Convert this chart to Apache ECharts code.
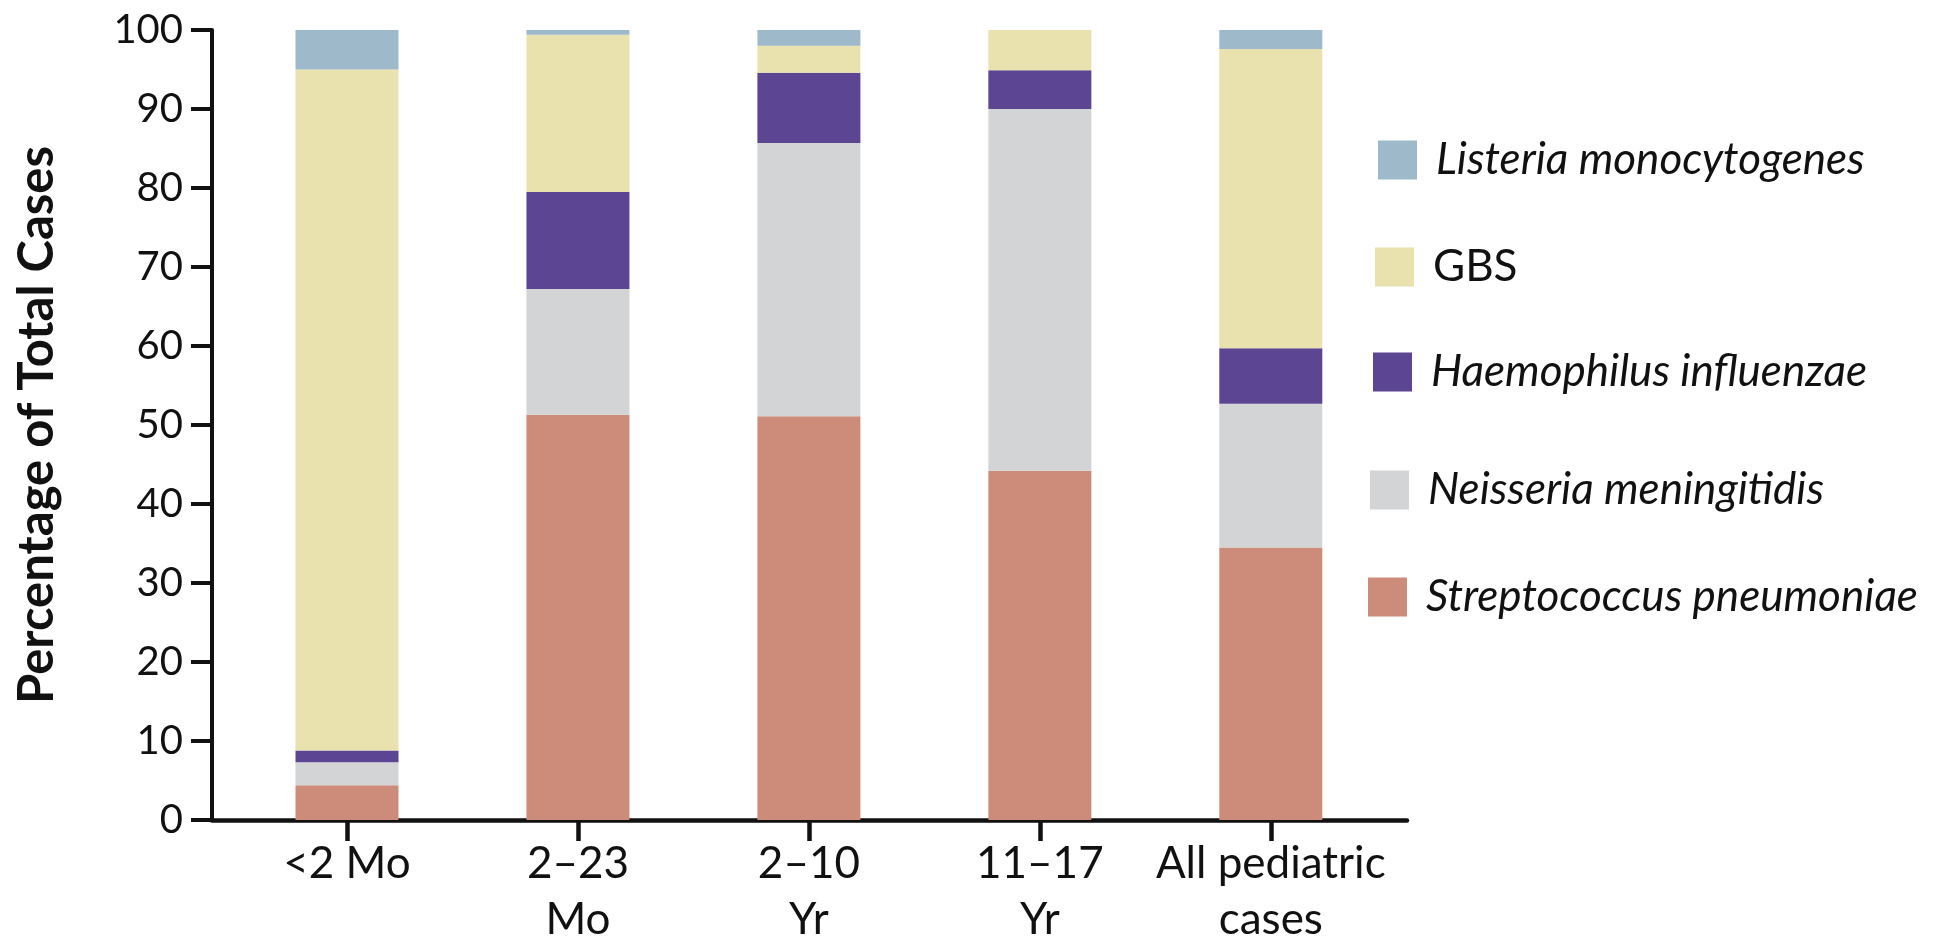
<!DOCTYPE html>
<html>
<head>
<meta charset="utf-8">
<title>Pediatric bacterial meningitis by age group</title>
<script src="https://cdn.jsdelivr.net/npm/echarts@6/dist/echarts.min.js"></script>
<style>
  html, body { margin: 0; padding: 0; background: #ffffff; }
  #chart { width: 1938px; height: 948px; }
</style>
</head>
<body>
<div id="chart"></div>
<script>
// Age groups along the x axis (index = bar position)
const ageGroups = ['<2 Mo', '2\u201323\nMo', '2\u201310\nYr', '11\u201317\nYr', 'All pediatric\ncases'];

// Percentage of total cases per pathogen, one value per age group
const streptococcus = [4.4, 51.3, 51.1, 44.2, 34.5];
const neisseria     = [2.9, 15.9, 34.6, 45.8, 18.2];
const haemophilus   = [1.5, 12.3, 8.9, 4.9, 7.0];
const gbs           = [86.2, 19.9, 3.4, 5.1, 37.9];
const listeria      = [5.0, 0.6, 2.0, 0.0, 2.4];

// Y axis ticks
const yTicks = [0, 10, 20, 30, 40, 50, 60, 70, 80, 90, 100];

const names = {
  spn: 'Streptococcus pneumoniae',
  nm: 'Neisseria meningitidis',
  hi: 'Haemophilus influenzae',
  gbs: 'GBS',
  lm: 'Listeria monocytogenes'
};

const colors = {
  spn: '#CD8C79',
  nm: '#D3D4D6',
  hi: '#5C4592',
  gbs: '#E9E2AE',
  lm: '#9DB9CA'
};

const positions = ageGroups.map((_, i) => i);

// Each point is [percentage, position]; the percentage comes first so that
// the stack is accumulated on the y dimension.
function stackSeries(key, values) {
  return {
    name: names[key],
    type: 'bar',
    stack: 'total',
    barWidth: 103,
    encode: { x: 1, y: 0 },
    data: values.map((v, i) => [v, positions[i]]),
    itemStyle: { color: colors[key] },
    emphasis: { disabled: true },
    animation: false
  };
}

// Legend rows, top to bottom, each slightly offset to the left
const legendRows = [
  { key: 'lm',  left: 1378, center: 160, italic: true },
  { key: 'gbs', left: 1375, center: 267, italic: false },
  { key: 'hi',  left: 1373, center: 372, italic: true },
  { key: 'nm',  left: 1370, center: 490, italic: true },
  { key: 'spn', left: 1368, center: 597, italic: true }
];

const legends = legendRows.map(r => ({
  data: [names[r.key]],
  orient: 'vertical',
  left: r.left,
  top: r.center - 25,
  padding: 0,
  icon: 'rect',
  itemWidth: 39,
  itemHeight: 39,
  selectedMode: false,
  textStyle: {
    fontFamily: 'Lato',
    fontStyle: r.italic ? 'italic' : 'normal',
    fontSize: 44,
    lineHeight: 50,
    color: '#111',
    padding: [0, 0, 0, 14]
  }
}));

const axisColor = '#111';

const option = {
  backgroundColor: '#ffffff',
  animation: false,
  legend: legends,
  grid: { left: 212, right: 531, top: 30, bottom: 128, containLabel: false },
  xAxis: {
    type: 'value',
    min: -0.5845,
    max: 4.5897,
    splitLine: { show: false },
    axisLine: { show: true, onZero: false, lineStyle: { color: axisColor, width: 4.5 } },
    axisTick: {
      show: true,
      customValues: positions,
      length: 21,
      lineStyle: { color: axisColor, width: 4.5 }
    },
    axisLabel: {
      customValues: positions,
      formatter: v => ageGroups[Math.round(v)] || '',
      margin: 16,
      fontFamily: 'Lato',
      fontSize: 44,
      lineHeight: 56,
      color: '#111'
    }
  },
  yAxis: {
    type: 'value',
    min: yTicks[0],
    max: yTicks[yTicks.length - 1],
    interval: yTicks[1] - yTicks[0],
    splitLine: { show: false },
    axisLine: { show: true, onZero: false, lineStyle: { color: axisColor, width: 4 } },
    axisTick: { show: true, length: 21, lineStyle: { color: axisColor, width: 4 } },
    axisLabel: {
      margin: 29,
      fontFamily: 'Lato',
      fontSize: 40,
      color: '#111'
    },
    name: 'Percentage of Total Cases',
    nameLocation: 'middle',
    nameRotate: 90,
    nameGap: 150,
    nameTextStyle: {
      fontFamily: 'Lato',
      fontWeight: 'bold',
      fontSize: 49,
      color: '#111'
    }
  },
  series: [
    stackSeries('spn', streptococcus),
    stackSeries('nm', neisseria),
    stackSeries('hi', haemophilus),
    stackSeries('gbs', gbs),
    stackSeries('lm', listeria)
  ]
};

const chart = echarts.init(document.getElementById('chart'), null, { renderer: 'canvas' });
chart.setOption(option);
</script>
</body>
</html>
